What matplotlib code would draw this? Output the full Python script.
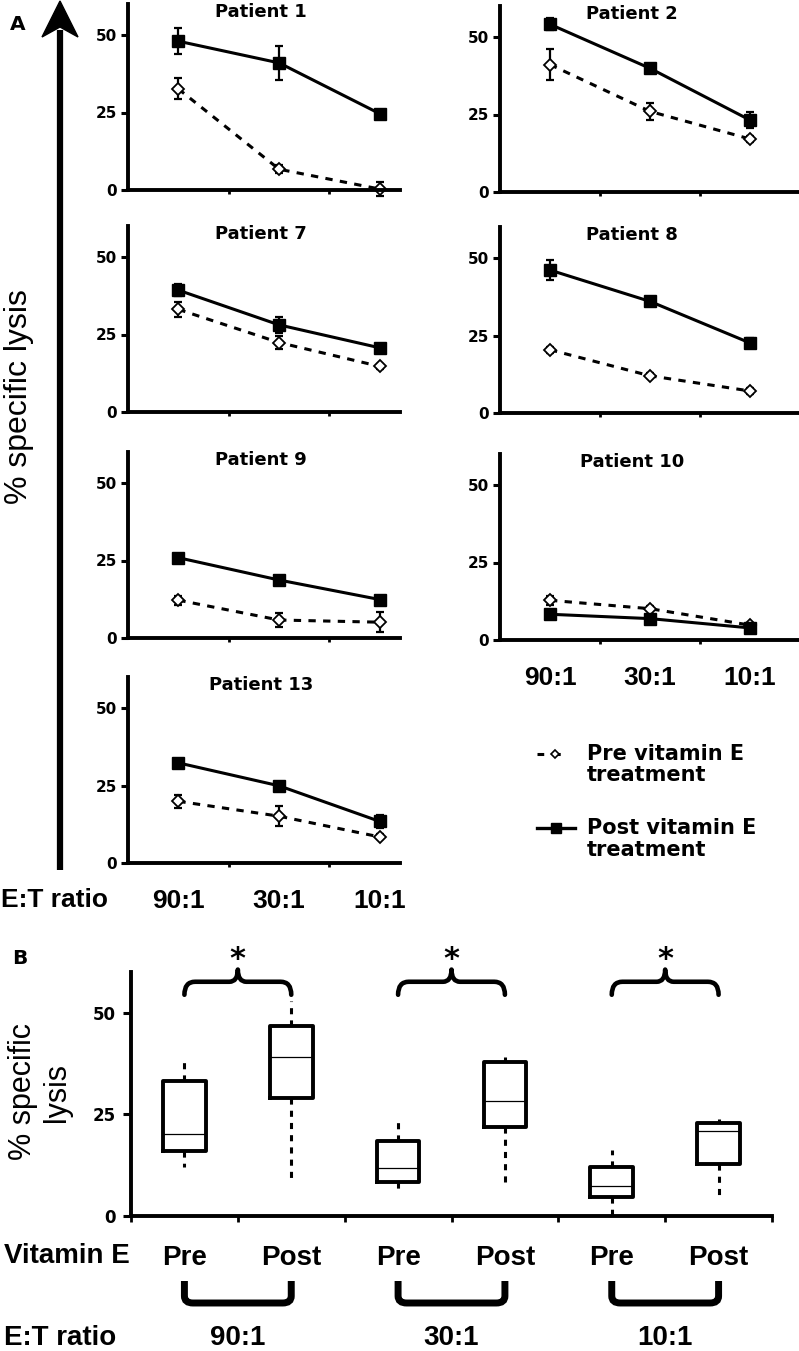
import matplotlib
matplotlib.use('Agg')
import matplotlib.pyplot as plt
from matplotlib.path import Path
from matplotlib.patches import PathPatch, Polygon
import matplotlib.transforms as mtransforms

# ---------------- data ----------------
et_ratios = ['90:1', '30:1', '10:1']
titles = ['Patient 1', 'Patient 2', 'Patient 7', 'Patient 8',
          'Patient 9', 'Patient 10', 'Patient 13']

p1_pre = [32.6, 6.7, 0.3];   p1_pre_err = [3.4, 1.3, 2.2]
p1_post = [48.0, 41.0, 24.6]; p1_post_err = [4.2, 5.4, 0.8]
p2_pre = [41.1, 26.0, 17.1];  p2_pre_err = [4.9, 2.8, 1.0]
p2_post = [54.1, 39.9, 23.2]; p2_post_err = [2.0, 1.0, 2.5]
p7_pre = [33.1, 22.4, 14.7];  p7_pre_err = [2.5, 2.2, 0.8]
p7_post = [39.3, 28.1, 20.7]; p7_post_err = [2.0, 2.5, 0.8]
p8_pre = [20.4, 12.0, 7.1];   p8_pre_err = [1.0, 0.8, 1.0]
p8_post = [46.1, 36.0, 22.6]; p8_post_err = [3.3, 1.5, 1.5]
p9_pre = [12.2, 5.8, 5.1];    p9_pre_err = [1.5, 2.4, 3.2]
p9_post = [25.9, 18.7, 12.4]; p9_post_err = [0.8, 0.8, 1.2]
p10_pre = [12.8, 10.1, 4.8];  p10_pre_err = [1.5, 0.8, 0.8]
p10_post = [8.3, 6.9, 3.9];   p10_post_err = [1.0, 0.8, 0.8]
p13_pre = [19.9, 15.1, 8.4];  p13_pre_err = [2.1, 3.2, 0.8]
p13_post = [32.3, 24.9, 13.4]; p13_post_err = [1.0, 0.8, 2.0]

yticks = [0, 25, 50]

# panel B box statistics: Pre90, Post90, Pre30, Post30, Pre10, Post10
box_labels = ['Pre', 'Post', 'Pre', 'Post', 'Pre', 'Post']
box_whislo = [12.1, 8.1, 6.0, 6.9, 0.2, 3.9]
box_q1 = [16.0, 29.0, 8.3, 21.8, 4.6, 12.8]
box_med = [20.1, 39.1, 11.7, 28.3, 7.5, 20.8]
box_q3 = [33.1, 46.8, 18.5, 37.8, 12.1, 22.9]
box_whishi = [38.4, 52.8, 23.5, 39.0, 16.3, 23.9]

# ---------------- layout ----------------
W, H = 799, 1351
fig = plt.figure(figsize=(W / 100, H / 100), dpi=100)

BOLD_DV = ['DejaVu Sans']
ARIAL = ['Liberation Sans', 'DejaVu Sans']


def rect(left, right, bottom, top):
    return [left / W, 1 - bottom / H, (right - left) / W, (bottom - top) / H]


# overlay in pixel coordinates for decorations
ov = fig.add_axes([0, 0, 1, 1], zorder=0)
ov.set_xlim(0, W)
ov.set_ylim(H, 0)
ov.axis('off')

x_pos = [0.5, 1.5, 2.5]
panels = [
    ('L', 190, titles[0], p1_pre, p1_pre_err, p1_post, p1_post_err),
    ('R', 192, titles[1], p2_pre, p2_pre_err, p2_post, p2_post_err),
    ('L', 412, titles[2], p7_pre, p7_pre_err, p7_post, p7_post_err),
    ('R', 413, titles[3], p8_pre, p8_pre_err, p8_post, p8_post_err),
    ('L', 638, titles[4], p9_pre, p9_pre_err, p9_post, p9_post_err),
    ('R', 640, titles[5], p10_pre, p10_pre_err, p10_post, p10_post_err),
    ('L', 863, titles[6], p13_pre, p13_pre_err, p13_post, p13_post_err),
]
AX_H = 186
for col, bottom, title, pre, pre_err, post, post_err in panels:
    if col == 'L':
        ax = fig.add_axes(rect(128, 400, bottom, bottom - AX_H), zorder=2)
        ax.set_xlim(0, 2.7)
    else:
        ax = fig.add_axes(rect(500, 800, bottom, bottom - AX_H), zorder=2)
        ax.set_xlim(0, 3.0)
    ax.set_ylim(0, 60)
    ax.patch.set_alpha(0)
    for s in ['top', 'right']:
        ax.spines[s].set_visible(False)
    for s in ['left', 'bottom']:
        ax.spines[s].set_linewidth(2.8)
    ax.set_yticks(yticks)
    ax.set_yticklabels([str(v) for v in yticks], fontweight='bold',
                       family=BOLD_DV, fontsize=11)
    ax.tick_params(axis='y', direction='out', length=5, width=2.2, pad=3)
    ax.set_xticks([1, 2])
    ax.set_xticklabels([])
    ax.tick_params(axis='x', which='major', direction='out', length=3, width=2)
    show_x = title in ('Patient 10', 'Patient 13')
    ax.set_xticks(x_pos, minor=True)
    ax.set_xticklabels(et_ratios if show_x else ['', '', ''], minor=True,
                       fontweight='bold', family=ARIAL, fontsize=19)
    ax.tick_params(axis='x', which='minor', length=0, pad=19)

    ax.errorbar(x_pos, pre, yerr=pre_err, fmt='none', ecolor='black',
                elinewidth=1.6, capsize=3.2, capthick=1.6, clip_on=False)
    ax.plot(x_pos, pre, linestyle=(0, (2.4, 2.4)), color='black', lw=2.2,
            marker='D', ms=6.5, mfc='white', mec='black', mew=1.3,
            clip_on=False)
    ax.errorbar(x_pos, post, yerr=post_err, fmt='none', ecolor='black',
                elinewidth=1.6, capsize=3.2, capthick=1.6, clip_on=False)
    ax.plot(x_pos, post, linestyle='-', color='black', lw=2.2,
            marker='s', ms=8.5, mfc='black', mec='black', clip_on=False)
    tr = mtransforms.blended_transform_factory(ax.transData, ax.transData)
    ax.text(1.32, 57.5, title, transform=tr, ha='center', va='center',
            fontweight='bold', family=BOLD_DV, fontsize=13)

# left "E:T ratio" for panel A
ov.text(1, 900, 'E:T ratio', ha='left', va='center', fontweight='bold',
        family=ARIAL, fontsize=19)

# big arrow and label of panel A
ov.plot([60, 60], [870, 30], color='black', lw=4.5, solid_capstyle='butt')
ov.add_patch(Polygon([(60, 1), (78, 37), (60, 27), (42, 37)], closed=True,
                     facecolor='black', edgecolor='black', lw=1))
ov.text(19, 397, '% specific lysis', rotation=90, ha='center', va='center',
        family=ARIAL, fontsize=23)
ov.text(18, 25, 'A', ha='center', va='center', fontweight='bold',
        family=BOLD_DV, fontsize=14.5)

# legend (panel A)
ov.plot([537, 570], [754, 754], linestyle=(0, (2.2, 3.2)), color='black', lw=2.2)
ov.plot([555], [754], marker='D', ms=4.5, mfc='white', mec='black', mew=1.2)
ov.plot([537, 575], [828, 828], linestyle='-', color='black', lw=2.4)
ov.plot([556], [828], marker='s', ms=6.5, mfc='black', mec='black')
for yy, txt in [(754, 'Pre vitamin E'), (775, 'treatment'),
                (828, 'Post vitamin E'), (850, 'treatment')]:
    ov.text(587, yy, txt, ha='left', va='center', fontweight='bold',
            family=BOLD_DV, fontsize=15)

# ---------------- panel B ----------------
axB = fig.add_axes(rect(131, 772, 1216, 972), zorder=2)
axB.patch.set_alpha(0)
box_pos = [0.5, 1.5, 2.5, 3.5, 4.5, 5.5]
stats = []
for i in range(len(box_pos)):
    stats.append(dict(whislo=box_whislo[i], q1=box_q1[i], med=box_med[i],
                      q3=box_q3[i], whishi=box_whishi[i], fliers=[]))
axB.bxp(stats, positions=box_pos, widths=0.4, showcaps=False,
        showfliers=False, manage_ticks=False,
        boxprops=dict(lw=2.8, color='black'),
        medianprops=dict(lw=0.9, color='black'),
        whiskerprops=dict(lw=2.2, color='black', linestyle=(0, (2, 2))))
axB.set_xlim(0, 6)
axB.set_ylim(0, 60)
for s in ['top', 'right']:
    axB.spines[s].set_visible(False)
for s in ['left', 'bottom']:
    axB.spines[s].set_linewidth(2.8)
axB.set_yticks(yticks)
axB.set_yticklabels([str(v) for v in yticks], fontweight='bold',
                    family=BOLD_DV, fontsize=12)
axB.tick_params(axis='y', direction='out', length=6, width=2.2, pad=5)
axB.set_xticks(range(0, 7))
axB.set_xticklabels([])
axB.tick_params(axis='x', which='major', direction='out', length=4, width=2)
axB.set_xticks(box_pos, minor=True)
axB.set_xticklabels(box_labels, minor=True, fontweight='bold', family=ARIAL,
                    fontsize=20)
axB.tick_params(axis='x', which='minor', length=0, pad=21)

# significance braces
for k in range(3):
    p = box_pos[2 * k]
    q = box_pos[2 * k + 1]
    m = (p + q) / 2
    yh, ye, yp = 57.6, 54.4, 60.6
    verts = [(p, ye), (p, yh), (p + 0.1, yh), (m - 0.08, yh), (m, yh), (m, yp),
             (m, yh), (m + 0.08, yh), (q - 0.1, yh), (q, yh), (q, ye)]
    codes = [Path.MOVETO, Path.CURVE3, Path.CURVE3, Path.LINETO, Path.CURVE3,
             Path.CURVE3, Path.CURVE3, Path.CURVE3, Path.LINETO, Path.CURVE3,
             Path.CURVE3]
    axB.add_patch(PathPatch(Path(verts, codes), fill=False, lw=3.3,
                            edgecolor='black', clip_on=False,
                            capstyle='round', joinstyle='round'))
    axB.text(m, 63.0, '*', ha='center', va='center', fontweight='bold',
             family=BOLD_DV, fontsize=22, clip_on=False)

# bottom brackets grouping Pre/Post by E:T ratio
trb = mtransforms.blended_transform_factory(axB.transData, ov.transData)
for k in range(3):
    p = box_pos[2 * k]
    q = box_pos[2 * k + 1]
    verts = [(p, 1281), (p, 1296), (p, 1303), (p + 0.08, 1303),
             (q - 0.08, 1303), (q, 1303), (q, 1296), (q, 1281)]
    codes = [Path.MOVETO, Path.LINETO, Path.CURVE3, Path.CURVE3,
             Path.LINETO, Path.CURVE3, Path.CURVE3, Path.LINETO]
    ov.add_patch(PathPatch(Path(verts, codes), fill=False, lw=5,
                           edgecolor='black', transform=trb, clip_on=False))
    ov.text((p + q) / 2, 1338, et_ratios[k], transform=trb, ha='center',
            va='center', fontweight='bold', family=ARIAL, fontsize=20)

ov.text(4, 1256, 'Vitamin E', ha='left', va='center', fontweight='bold',
        family=ARIAL, fontsize=20)
ov.text(4, 1338, 'E:T ratio', ha='left', va='center', fontweight='bold',
        family=ARIAL, fontsize=20)
ov.text(40, 1092, '% specific\nlysis', rotation=90, ha='center',
        va='center', multialignment='center', family=ARIAL, fontsize=22)
ov.text(20, 958, 'B', ha='center', va='center', fontweight='bold',
        family=BOLD_DV, fontsize=14.5)

fig.savefig('out.png', dpi=100)
